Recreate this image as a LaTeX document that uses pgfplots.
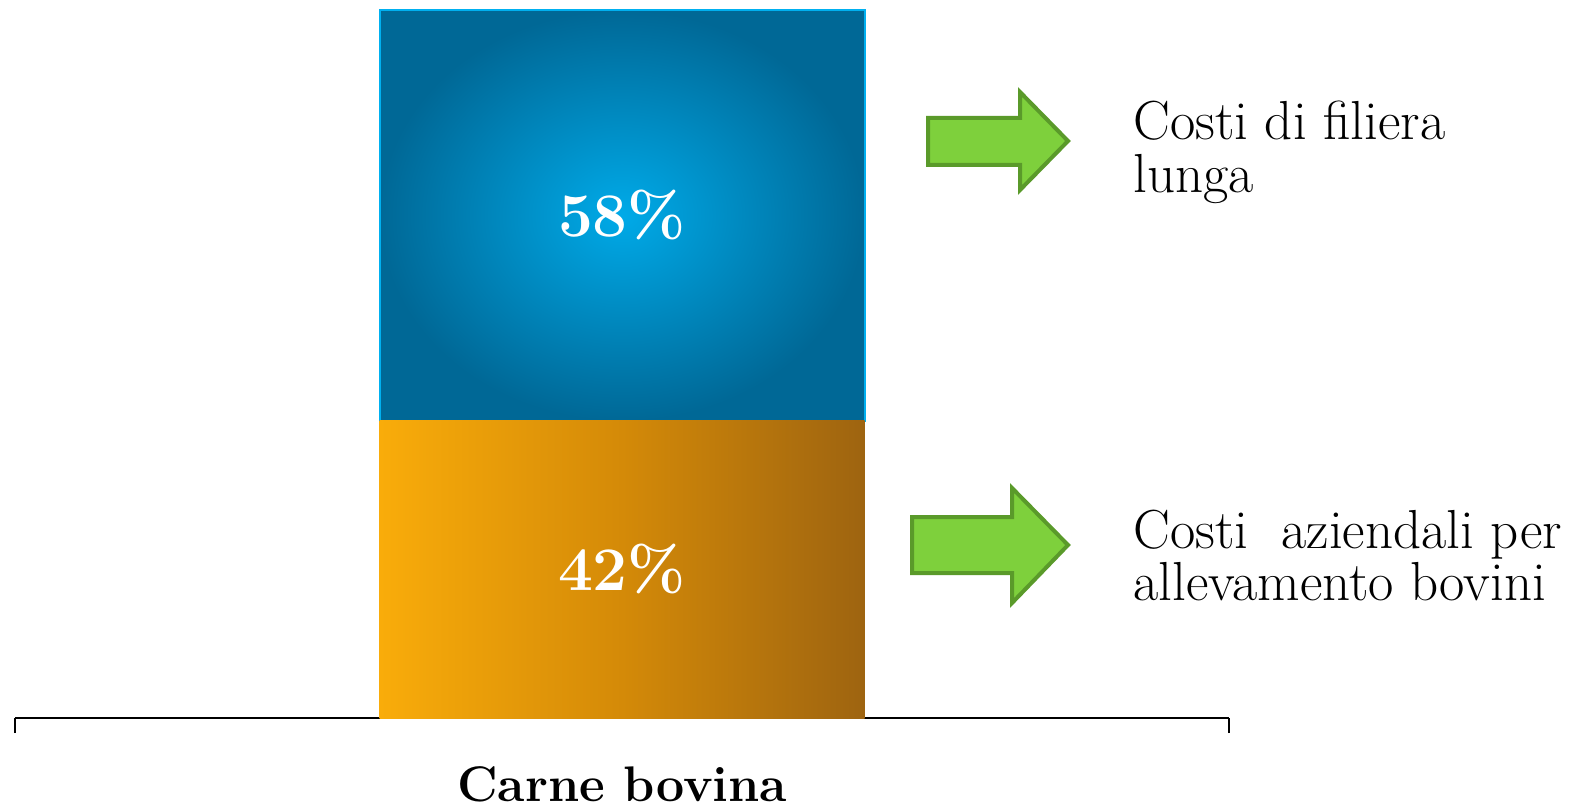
\documentclass[border=0pt]{standalone}
\usepackage{pgfplots}
\pgfplotsset{compat=1.18}
\definecolor{blueA}{RGB}{0,170,232}
\definecolor{blueD}{RGB}{0,104,150}
\definecolor{blueB}{RGB}{0,176,240}
\definecolor{orA}{RGB}{249,172,10}
\definecolor{orM}{RGB}{212,138,8}
\definecolor{orD}{RGB}{158,100,16}
\definecolor{grF}{RGB}{126,208,60}
\definecolor{grD}{RGB}{90,154,42}
\begin{document}
\begin{tikzpicture}[x=0.5pt,y=0.5pt]
\useasboundingbox (0,0) rectangle (1569,810);
\begin{axis}[
  at={(7.5pt,46pt)}, anchor=south west,
  scale only axis, width=607pt, height=354pt,
  xmin=-1.25, xmax=1.25, ymin=0, ymax=100,
  enlargelimits=false,
  axis y line=none, axis x line*=bottom,
  x axis line style={-, line width=1pt},
  xtick={-1.25,1.25}, xticklabels={}, tick align=outside,
  major tick length=7.5pt, xtick style={black, line width=1pt},
  ytick=\empty,
  ybar stacked, bar width=242.5pt,
  clip=false,
]
\addplot[draw=none, left color=orA, right color=orD, middle color=orM] coordinates {(0,42)};
\addplot[draw=blueB, line width=1pt, inner color=blueA, outer color=blueD] coordinates {(0,58)};
\coordinate (lo) at (axis cs:0,21);
\coordinate (hi) at (axis cs:0,71);
\node[anchor=base, inner sep=0pt, font=\bfseries\fontsize{25}{25}\selectfont] at (axis cs:0,0) [yshift=-41.5pt] {Carne bovina};
\end{axis}
\node[white, font=\bfseries\fontsize{31}{31}\selectfont] at (lo) {42\%};
\node[white, font=\bfseries\fontsize{31}{31}\selectfont] at (hi) {58\%};
\filldraw[fill=grF, draw=grD, line width=2pt, line join=miter]
  (928,692) -- (1020,692) -- (1020,718) -- (1068,669) -- (1020,620) -- (1020,645) -- (928,645) -- cycle;
\filldraw[fill=grF, draw=grD, line width=2pt, line join=miter]
  (912,293) -- (1012,293) -- (1012,322) -- (1068,265) -- (1012,207) -- (1012,237) -- (912,237) -- cycle;
\node[anchor=base west, inner sep=0pt, font=\fontsize{27.5}{27.5}\selectfont] at (1133,670) {Costi di filiera};
\node[anchor=base west, inner sep=0pt, font=\fontsize{27.5}{27.5}\selectfont] at (1133,617) {lunga};
\node[anchor=base west, inner sep=0pt, font=\fontsize{27.5}{27.5}\selectfont] at (1133,262) {Costi\ \ aziendali per};
\node[anchor=base west, inner sep=0pt, font=\fontsize{27.5}{27.5}\selectfont] at (1133,210) {allevamento bovini};
\end{tikzpicture}
\end{document}
